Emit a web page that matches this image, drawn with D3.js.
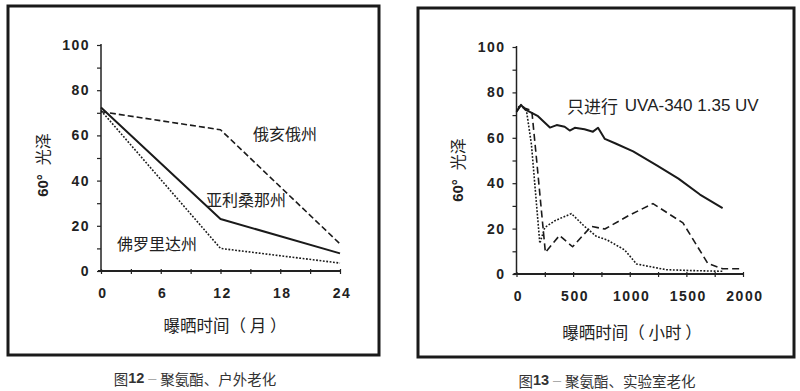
<!DOCTYPE html>
<html><head><meta charset="utf-8">
<script src="https://cdn.jsdelivr.net/npm/d3@7"></script>
<style>
html,body{margin:0;padding:0;background:#fff;}
svg{display:block;}
.tick text{font-family:"Liberation Sans",Arial,sans-serif;font-weight:bold;font-size:14px;fill:#222;letter-spacing:1.5px;}
.cjk{font-family:"Noto Sans CJK SC",sans-serif;fill:#222;}
</style></head>
<body>
<script>
// ---- Figure 12 (outdoor) ----
const monthsL = [0, 12, 24];
const ohio = [70.5, 62.5, 12];
const arizona = [72.3, 23, 7.8];
const florida = [71, 10, 3.5];
const xTicksL = [0, 6, 12, 18, 24];
const yTicks = [0, 20, 40, 60, 80, 100];

// ---- Figure 13 (lab) ----
const hoursSolid = [0, 40, 75, 190, 295, 355, 425, 470, 515, 600, 675, 720, 780, 870, 1030, 1235, 1430, 1620, 1820];
const uvaOnly = [71.5, 74.5, 72.5, 69.5, 64.5, 65.6, 64.9, 63.2, 64.4, 63.8, 62.7, 64.4, 59.5, 57.6, 54, 48, 42, 35, 29];
const hoursDash = [0, 40, 75, 135, 180, 255, 380, 495, 660, 780, 1000, 1205, 1470, 1690, 1820, 2000];
const dashSeries = [71.5, 74.5, 73, 72, 49, 9.5, 17, 12, 21, 19.8, 26, 31, 22.5, 4.6, 2.3, 2.3];
const hoursDot = [0, 30, 88, 132, 206, 250, 340, 485, 600, 705, 800, 955, 1060, 1320, 1550, 1820];
const dotSeries = [72, 74.5, 72, 57, 13.5, 20.5, 23.5, 26.6, 21, 16.6, 15, 10.6, 4.4, 1.9, 1.5, 1.2];
const xTicksR = [0, 500, 1000, 1500, 2000];

const svg = d3.select("body").append("svg").attr("width", 800).attr("height", 391);
svg.append("rect").attr("width",800).attr("height",391).attr("fill","#fff");

// frames
svg.append("rect").attr("x",8).attr("y",6).attr("width",371).attr("height",349)
  .attr("fill","none").attr("stroke","#1a1a1a").attr("stroke-width",3);
svg.append("rect").attr("x",418).attr("y",8).attr("width",376).attr("height",349)
  .attr("fill","none").attr("stroke","#1a1a1a").attr("stroke-width",3);

function drawPanel(cfg){
  const g = svg.append("g");
  const x = cfg.x, y = cfg.y;
  const yAxis = d3.axisLeft(y).tickValues(d3.range(0,101,10)).tickSize(4).tickPadding(7)
    .tickFormat(d => yTicks.includes(d) ? d : "");
  const ga = g.append("g").attr("transform",`translate(${x.range()[0]},0)`).call(yAxis);
  ga.select(".domain").attr("stroke","#222").attr("stroke-width",1.5).attr("d",`M0,${y(0)}V${y(100)-1}`);
  ga.selectAll(".tick line").attr("stroke","#222").attr("stroke-width",1.2);
  const xAxis = d3.axisBottom(x).tickValues(cfg.minor).tickSize(3).tickPadding(14)
    .tickFormat(d => cfg.major.includes(d) ? d : "");
  const gx = g.append("g").attr("transform",`translate(0,${y(0)})`).call(xAxis);
  gx.select(".domain").attr("stroke","#222").attr("stroke-width",2).attr("d",`M${x.range()[0]-3},0H${x.range()[1]}`);
  gx.selectAll(".tick line").attr("stroke","#222").attr("stroke-width",1.2).attr("y1",-2);
  gx.selectAll(".tick text").attr("dx","0.1em");
  // axis titles
  const yt = g.append("text").attr("transform",`translate(${cfg.yTitleX},${cfg.yTitleY}) rotate(-90)`)
    .attr("text-anchor","middle").attr("dominant-baseline","central");
  yt.append("tspan").attr("font-family","Liberation Sans, Arial, sans-serif").attr("font-weight","bold")
    .attr("font-size",15).attr("fill","#222").text("60°");
  yt.append("tspan").attr("class","cjk").attr("font-size",16).attr("dx",9).text("光泽");
  g.append("text").attr("class","cjk").attr("x",cfg.xTitleX).attr("y",cfg.xTitleY)
    .attr("text-anchor","middle").attr("dominant-baseline","central").attr("font-size",16.5)
    .text(cfg.xTitle);
  // caption
  const cap = svg.append("text").attr("x",cfg.capX).attr("y",cfg.capY).attr("text-anchor","middle")
    .attr("dominant-baseline","central").attr("font-size",14.5).attr("fill","#333");
  cap.append("tspan").attr("font-family","Noto Sans CJK SC, sans-serif").text("图");
  cap.append("tspan").attr("font-family","Liberation Sans, Arial, sans-serif").attr("font-weight","bold").text(cfg.capNum);
  cap.append("tspan").attr("font-family","Liberation Sans, Arial, sans-serif").attr("fill","#aaa").attr("dx",4).text("–");
  cap.append("tspan").attr("font-family","Noto Sans CJK SC, sans-serif").attr("dx",4).text(cfg.capText);
  return g;
}

// Left panel
const xL = d3.scaleLinear().domain([0,24]).range([101,340]);
const yL = d3.scaleLinear().domain([0,100]).range([271,45]);
const gL = drawPanel({x:xL,y:yL,minor:d3.range(0,25,3),major:xTicksL,
  yTitleX:42,yTitleY:165,xTitleX:225,xTitleY:325,xTitle:"曝晒时间（ 月 ）",
  capX:195,capY:378,capNum:"12",capText:"聚氨酯、户外老化"});
const lineL = d3.line().x(d=>xL(d[0])).y(d=>yL(d[1]));
function addLine(g, line, xs, ys, dash, w){
  g.append("path").datum(xs.map((v,i)=>[v,ys[i]])).attr("d",line)
    .attr("fill","none").attr("stroke","#1a1a1a").attr("stroke-width",w)
    .attr("stroke-dasharray",dash).attr("stroke-linejoin","round");
}
addLine(gL, lineL, monthsL, ohio, "6,3", 1.6);
addLine(gL, lineL, monthsL, arizona, null, 2);
addLine(gL, lineL, monthsL, florida, "1.8,1.6", 1.6);
const labelsL = [["俄亥俄州",285,133],["亚利桑那州",246,199],["佛罗里达州",157,243]];
labelsL.forEach(l=>gL.append("text").attr("class","cjk").attr("x",l[1]).attr("y",l[2])
  .attr("text-anchor","middle").attr("dominant-baseline","central").attr("font-size",16).text(l[0]));

// Right panel
const xR = d3.scaleLinear().domain([0,2000]).range([516.5,743]);
const yR = d3.scaleLinear().domain([0,100]).range([274,47]);
const gR = drawPanel({x:xR,y:yR,minor:d3.range(0,2001,250),major:xTicksR,
  yTitleX:457,yTitleY:170,xTitleX:632,xTitleY:332,xTitle:"曝晒时间（ 小时 ）",
  capX:607,capY:380,capNum:"13",capText:"聚氨酯、实验室老化"});
const lineR = d3.line().x(d=>xR(d[0])).y(d=>yR(d[1]));
addLine(gR, lineR, hoursDash, dashSeries, "7,4", 1.6);
addLine(gR, lineR, hoursDot, dotSeries, "1.8,1.6", 1.6);
addLine(gR, lineR, hoursSolid, uvaOnly, null, 2);
const ann = gR.append("text").attr("x",567).attr("y",105).attr("dominant-baseline","central").attr("font-size",17).attr("fill","#222");
ann.append("tspan").attr("font-family","Noto Sans CJK SC, sans-serif").text("只进行 ");
ann.append("tspan").attr("font-family","Liberation Sans, Arial, sans-serif").attr("dx",3).text("UVA-340 1.35 UV");
</script>
</body></html>
